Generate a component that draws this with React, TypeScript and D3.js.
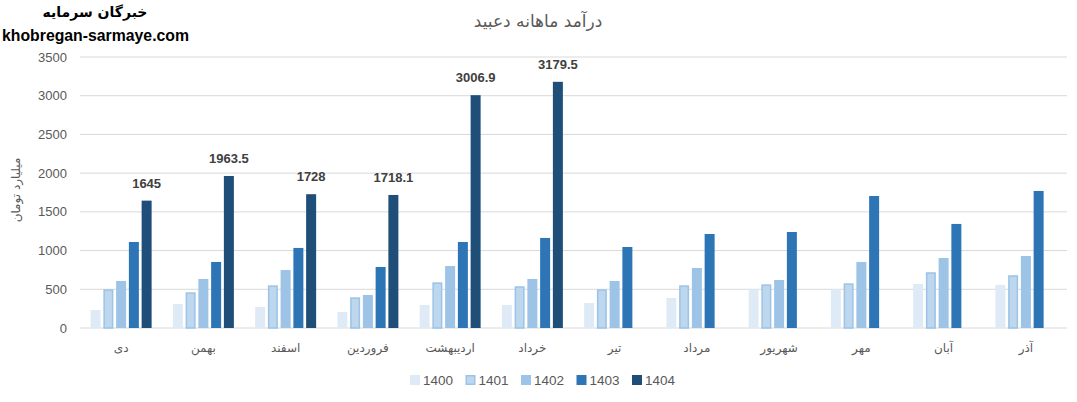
import React from "react";
import * as d3 from "d3";

const months = ["دی", "بهمن", "اسفند", "فروردین", "اردیبهشت", "خرداد", "تیر", "مرداد", "شهریور", "مهر", "آبان", "آذر"];
const seriesNames = ["1400", "1401", "1402", "1403", "1404"];
const s1400 = [232, 310, 271, 207, 297, 297, 323, 388, 498, 500, 568, 556];
const s1401 = [500, 461, 551, 396, 590, 539, 500, 551, 564, 577, 720, 681];
const s1402 = [607, 633, 749, 426, 801, 633, 607, 775, 620, 853, 904, 930];
const s1403 = [1111, 853, 1034, 788, 1111, 1163, 1046, 1214, 1240, 1705, 1344, 1770];
const s1404: (number | null)[] = [1645, 1963.5, 1728, 1718.1, 3006.9, 3179.5, null, null, null, null, null, null];
const yTicks = [0, 500, 1000, 1500, 2000, 2500, 3000, 3500];
const colors = ["#deebf7", "#bdd7ee", "#9dc3e6", "#2e75b6", "#1f4e79"];

const W = 1077;
const H = 402;
const FONT = "'Liberation Sans', Arial, sans-serif";

export default function App() {
  const allSeries = [s1400, s1401, s1402, s1403, s1404];
  const x = d3.scaleBand<string>().domain(months).range([80, 1067]);
  const y = d3.scaleLinear().domain([0, 3500]).range([328, 57]);
  const inner = d3.scaleBand<string>().domain(seriesNames).range([-30.5, 30.5]).paddingInner(0.216);
  const bw = inner.bandwidth();

  return (
    <div style={{ position: "absolute", left: 0, top: 0 }}>
      <svg width={W} height={H} style={{ display: "block", background: "#fff" }} fontFamily={FONT}>
        {/* gridlines */}
        {yTicks.map((t) => (
          <line key={t} x1={80} x2={1067} y1={y(t)} y2={y(t)} stroke="#d9d9d9" strokeWidth={1} />
        ))}
        {/* y tick labels */}
        {yTicks.map((t) => (
          <text key={"l" + t} x={67} y={y(t)} dy="0.35em" textAnchor="end" fontSize={13} fill="#595959">
            {t}
          </text>
        ))}
        {/* bars */}
        {allSeries.map((vals, si) =>
          vals.map((v, mi) => {
            if (v == null) return null;
            const cx = (x(months[mi]) as number) + x.bandwidth() / 2;
            const bx = cx + (inner(seriesNames[si]) as number);
            const isBordered = si === 1;
            return (
              <rect
                key={si + "-" + mi}
                x={isBordered ? bx + 0.75 : bx}
                y={isBordered ? y(v) + 0.75 : y(v)}
                width={isBordered ? bw - 1.5 : bw}
                height={isBordered ? y(0) - y(v) - 0.75 : y(0) - y(v)}
                fill={colors[si]}
                stroke={isBordered ? "#9dc3e6" : "none"}
                strokeWidth={isBordered ? 1.5 : 0}
              />
            );
          })
        )}
        {/* data labels for 1404 */}
        {s1404.map((v, mi) => {
          if (v == null) return null;
          const cx = (x(months[mi]) as number) + x.bandwidth() / 2 + (inner("1404") as number) + bw / 2;
          return (
            <text key={"d" + mi} x={cx} y={y(v) - 13} textAnchor="middle" fontSize={13} fontWeight="bold" fill="#404040">
              {String(v)}
            </text>
          );
        })}
        {/* category labels */}
        {months.map((m) => (
          <text
            key={"c" + m}
            x={(x(m) as number) + x.bandwidth() / 2}
            y={352}
            textAnchor="middle"
            fontSize={12}
            fill="#595959"
            fontFamily="'DejaVu Sans', sans-serif"
          >
            {m}
          </text>
        ))}
        {/* title */}
        <text x={538} y={27} textAnchor="middle" fontSize={17} fill="#595959" fontFamily="'DejaVu Sans', sans-serif">
          درآمد ماهانه دعبید
        </text>
        {/* y axis title */}
        <text
          transform="translate(20,190) rotate(-90)"
          textAnchor="middle"
          fontSize={12}
          fill="#595959"
          fontFamily="'DejaVu Sans', sans-serif"
        >
          میلیارد تومان
        </text>
        {/* watermark */}
        <text x={95} y={17} textAnchor="middle" fontSize={14} fontWeight="bold" fill="#000" fontFamily="'DejaVu Sans', sans-serif">
          خبرگان سرمایه
        </text>
        <text x={2} y={41} fontSize={15.8} fontWeight="bold" fill="#000">
          khobregan-sarmaye.com
        </text>
        {/* legend */}
        {seriesNames.map((s, i) => {
          const lx = 410 + i * 55.5;
          return (
            <g key={"lg" + s}>
              <rect
                x={i === 1 ? lx + 0.75 : lx}
                y={i === 1 ? 375.75 : 375}
                width={i === 1 ? 8.5 : 10}
                height={i === 1 ? 8.5 : 10}
                fill={colors[i]}
                stroke={i === 1 ? "#9dc3e6" : "none"}
                strokeWidth={i === 1 ? 1.5 : 0}
              />
              <text x={lx + 13} y={380} dy="0.35em" fontSize={13.5} fill="#595959">
                {s}
              </text>
            </g>
          );
        })}
      </svg>
    </div>
  );
}
